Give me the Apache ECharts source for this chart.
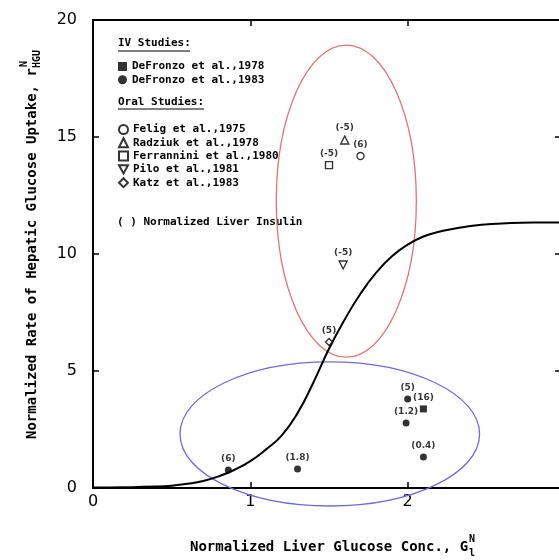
<!DOCTYPE html>
<html>
<head>
<meta charset="utf-8">
<script src="https://cdn.jsdelivr.net/npm/echarts@6/dist/echarts.min.js"></script>
<style>
    html, body { margin: 0; padding: 0; background: #fff; overflow: hidden; }
    /* the original figure is cropped on the right, so the frame runs a few px past the page */
    #chart { width: 565px; height: 560px; }
</style>
</head>
<body>
<div id="chart"></div>
<script>

// Data
// ------------------------------

// Model curve (normalized liver glucose -> normalized HGU rate)
var curveX = [0, 0.2, 0.4, 0.5, 0.6, 0.7, 0.8, 0.9, 1.0, 1.1, 1.2, 1.3, 1.4, 1.5, 1.6, 1.7, 1.8, 1.9, 2.0, 2.1, 2.2, 2.4, 2.6, 2.8, 3.0];
var curveY = [0.02, 0.03, 0.06, 0.1, 0.18, 0.3, 0.5, 0.78, 1.15, 1.65, 2.25, 3.2, 4.5, 5.95, 7.2, 8.3, 9.2, 9.9, 10.4, 10.75, 10.95, 11.2, 11.3, 11.35, 11.35];

// IV studies
var defronzo78X = [2.10];
var defronzo78Y = [3.38];
var defronzo78Ins = ['(16)'];

var defronzo83X = [2.00, 1.99, 2.10, 0.86, 1.30];
var defronzo83Y = [3.80, 2.78, 1.32, 0.77, 0.81];
var defronzo83Ins = ['(5)', '(1.2)', '(0.4)', '(6)', '(1.8)'];

// Oral studies
var feligX = [1.70];
var feligY = [14.19];
var feligIns = ['(6)'];

var radziukX = [1.60];
var radziukY = [14.87];
var radziukIns = ['(-5)'];

var ferranniniX = [1.50];
var ferranniniY = [13.80];
var ferranniniIns = ['(-5)'];

var piloX = [1.59];
var piloY = [9.53];
var piloIns = ['(-5)'];

var katzX = [1.50];
var katzY = [6.24];
var katzIns = ['(5)'];

// Grouping ellipses: [centre x, centre y, radius x, radius y] in data units
var oralEllipse = [1.61, 12.26, 0.445, 6.67];
var ivEllipse = [1.505, 2.31, 0.952, 3.08];

// Axis ticks
var xTicks = { min: 0, max: 3, interval: 1 };
var yTicks = { min: 0, max: 20, interval: 5 };


// Helpers
// ------------------------------

var mono = 'DejaVu Sans Mono';

function zipData(xs, ys, labels) {
    var out = [];
    for (var i = 0; i < xs.length; i++) {
        out.push([xs[i], ys[i], labels[i]]);
    }
    return out;
}

function studySeries(name, xs, ys, labels, symbol, filled, rotate) {
    return {
        name: name,
        type: 'scatter',
        symbol: symbol,
        symbolSize: symbol === 'triangle' ? 8 : 7,
        symbolRotate: rotate || 0,
        z: 5,
        data: zipData(xs, ys, labels),
        encode: { x: 0, y: 1 },
        itemStyle: {
            color: filled ? '#000' : '#fff',
            borderColor: '#000',
            borderWidth: filled ? 0 : 1.4
        },
        label: {
            show: true,
            position: 'top',
            distance: 3,
            color: '#000',
            fontSize: 9,
            fontWeight: 'bold',
            fontFamily: 'DejaVu Sans',
            formatter: function (p) { return p.value[2]; }
        }
    };
}

function ellipseSeries(values, color) {
    return {
        type: 'custom',
        silent: true,
        z: 1,
        data: [values],
        encode: { x: 0, y: 1 },
        renderItem: function (params, api) {
            var c = api.coord([api.value(0), api.value(1)]);
            var s = api.size([api.value(2), api.value(3)]);
            return {
                type: 'ellipse',
                shape: { cx: c[0], cy: c[1], rx: s[0], ry: s[1] },
                style: { fill: 'none', stroke: color, lineWidth: 1.3 }
            };
        }
    };
}

function frameAxis(position, ticks, showLabel) {
    return {
        type: 'value',
        position: position,
        min: ticks.min,
        max: ticks.max,
        interval: ticks.interval,
        axisLine: { show: true, onZero: false, lineStyle: { color: '#000', width: 2 } },
        axisTick: {
            show: true,
            inside: true,
            length: position === 'right' ? 10 : 6,
            lineStyle: { color: '#000', width: 1.5 }
        },
        axisLabel: {
            show: showLabel,
            showMaxLabel: position === 'left',
            color: '#000',
            fontSize: 16,
            fontFamily: 'DejaVu Sans',
            margin: position === 'left' ? 16 : 6
        },
        splitLine: { show: false }
    };
}

var legendText = { color: '#000', fontFamily: mono, fontWeight: 'bold', fontSize: 11, lineHeight: 13 };


// Chart
// ------------------------------

var chart = echarts.init(document.getElementById('chart'));

chart.setOption({
    animation: false,
    backgroundColor: '#fff',
    grid: { left: 93, top: 20, right: 0, bottom: 72 },

    xAxis: [frameAxis('bottom', xTicks, true), frameAxis('top', xTicks, false)],
    yAxis: [frameAxis('left', yTicks, true), frameAxis('right', yTicks, false)],

    legend: [{
        data: ['DeFronzo et al.,1978', 'DeFronzo et al.,1983'],
        orient: 'vertical',
        left: 118,
        top: 60,
        padding: 0,
        itemGap: 0.3,
        itemWidth: 9,
        itemHeight: 9,
        selectedMode: false,
        textStyle: legendText
    }, {
        data: [
            'Felig et al.,1975',
            'Radziuk et al.,1978',
            'Ferrannini et al.,1980',
            { name: 'Pilo et al.,1981', icon: 'path://M0,0L10,0L5,9Z' },
            'Katz et al.,1983'
        ],
        orient: 'vertical',
        left: 118,
        top: 123,
        padding: 0,
        itemGap: 0.3,
        itemWidth: 9,
        itemHeight: 9,
        selectedMode: false,
        textStyle: legendText
    }],

    graphic: [
        // legend headers
        { type: 'text', x: 118, y: 43, style: { text: 'IV Studies:', font: 'bold 11px ' + mono, fill: '#000', textVerticalAlign: 'middle' } },
        { type: 'line', shape: { x1: 118, y1: 51, x2: 190, y2: 51 }, style: { stroke: '#000', lineWidth: 1 } },
        { type: 'text', x: 118, y: 102, style: { text: 'Oral Studies:', font: 'bold 11px ' + mono, fill: '#000', textVerticalAlign: 'middle' } },
        { type: 'line', shape: { x1: 118, y1: 109, x2: 204, y2: 109 }, style: { stroke: '#000', lineWidth: 1 } },
        { type: 'text', x: 117, y: 222, style: { text: '( ) Normalized Liver Insulin', font: 'bold 11px ' + mono, fill: '#000', textVerticalAlign: 'middle' } },

        // x axis title
        { type: 'text', x: 190, y: 547, style: { text: 'Normalized Liver Glucose Conc., G', font: 'bold 14px ' + mono, fill: '#000', textVerticalAlign: 'middle' } },
        { type: 'text', x: 469, y: 553, style: { text: 'l', font: 'bold 10px ' + mono, fill: '#000', textVerticalAlign: 'middle' } },
        { type: 'text', x: 469, y: 539, style: { text: 'N', font: 'bold 10px ' + mono, fill: '#000', textVerticalAlign: 'middle' } },

        // y axis title
        {
            type: 'group',
            x: 32,
            y: 242,
            rotation: Math.PI / 2,
            children: [
                { type: 'text', x: -197, y: 0, style: { text: 'Normalized Rate of Hepatic Glucose Uptake, r', font: 'bold 14px ' + mono, fill: '#000', textVerticalAlign: 'middle' } },
                { type: 'text', x: 174, y: 5, style: { text: 'HGU', font: 'bold 10px ' + mono, fill: '#000', textVerticalAlign: 'middle' } },
                { type: 'text', x: 175, y: -8, style: { text: 'N', font: 'bold 10px ' + mono, fill: '#000', textVerticalAlign: 'middle' } }
            ]
        }
    ],

    series: [
        ellipseSeries(oralEllipse, '#e57373'),
        ellipseSeries(ivEllipse, '#6b6be0'),
        {
            type: 'line',
            smooth: true,
            symbol: 'none',
            z: 3,
            silent: true,
            data: curveX.map(function (x, i) { return [x, curveY[i]]; }),
            lineStyle: { color: '#000', width: 2 }
        },
        studySeries('DeFronzo et al.,1978', defronzo78X, defronzo78Y, defronzo78Ins, 'rect', true),
        studySeries('DeFronzo et al.,1983', defronzo83X, defronzo83Y, defronzo83Ins, 'circle', true),
        studySeries('Felig et al.,1975', feligX, feligY, feligIns, 'circle', false),
        studySeries('Radziuk et al.,1978', radziukX, radziukY, radziukIns, 'triangle', false),
        studySeries('Ferrannini et al.,1980', ferranniniX, ferranniniY, ferranniniIns, 'rect', false),
        studySeries('Pilo et al.,1981', piloX, piloY, piloIns, 'triangle', false, 180),
        studySeries('Katz et al.,1983', katzX, katzY, katzIns, 'diamond', false)
    ]
});

</script>
</body>
</html>
